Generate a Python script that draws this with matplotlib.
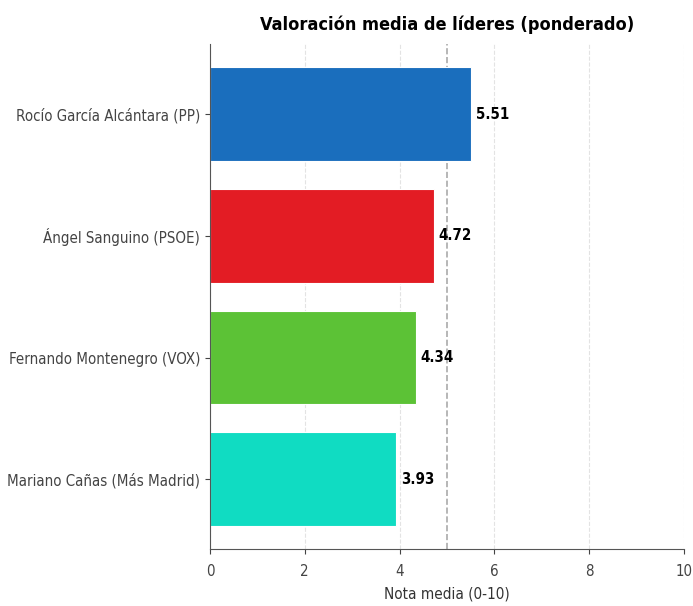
import matplotlib
matplotlib.use("Agg")
import matplotlib.pyplot as plt

candidatos = ["Rocío García Alcántara (PP)", "Ángel Sanguino (PSOE)",
              "Fernando Montenegro (VOX)", "Mariano Cañas (Más Madrid)"]
notas = [5.51, 4.72, 4.34, 3.93]
colores = ["#1a6ebd", "#e31c24", "#5cc236", "#10dcc2"]

plt.rcParams['font.family'] = 'DejaVu Sans'
plt.rcParams['font.stretch'] = 'condensed'

fig = plt.figure(figsize=(6.93, 6.06), dpi=100)
ax = fig.add_axes([0.303, 0.094, 0.684, 0.833])

ys = list(range(len(candidatos)))[::-1]
ax.barh(ys, notas, height=0.77, color=colores, edgecolor="white", linewidth=0.8)
for y, v in zip(ys, notas):
    ax.text(v + 0.1, y, f"{v:.2f}", va="center", ha="left",
            fontsize=10.8, fontweight="bold")

ax.axvline(5, color="#aaaaaa", linestyle="--", linewidth=1.2, zorder=0)
ax.set_xlim(0, 10)
ax.set_yticks(ys)
ax.set_yticklabels(candidatos)
ax.grid(axis="x", linestyle="--", color="#e3e3e3", linewidth=0.8)
ax.set_axisbelow(True)
ax.spines["top"].set_visible(False)
ax.spines["right"].set_visible(False)
ax.spines["left"].set_color("#555555")
ax.spines["bottom"].set_color("#555555")
ax.tick_params(colors="#444444", labelsize=10.8)
ax.tick_params(axis="x", pad=7)
ax.set_xlabel("Nota media (0-10)", fontsize=11, color="#333333", labelpad=6)
ax.set_title("Valoración media de líderes (ponderado)", fontsize=13,
             fontweight="bold", pad=10)

fig.savefig("out.png", dpi=100)
